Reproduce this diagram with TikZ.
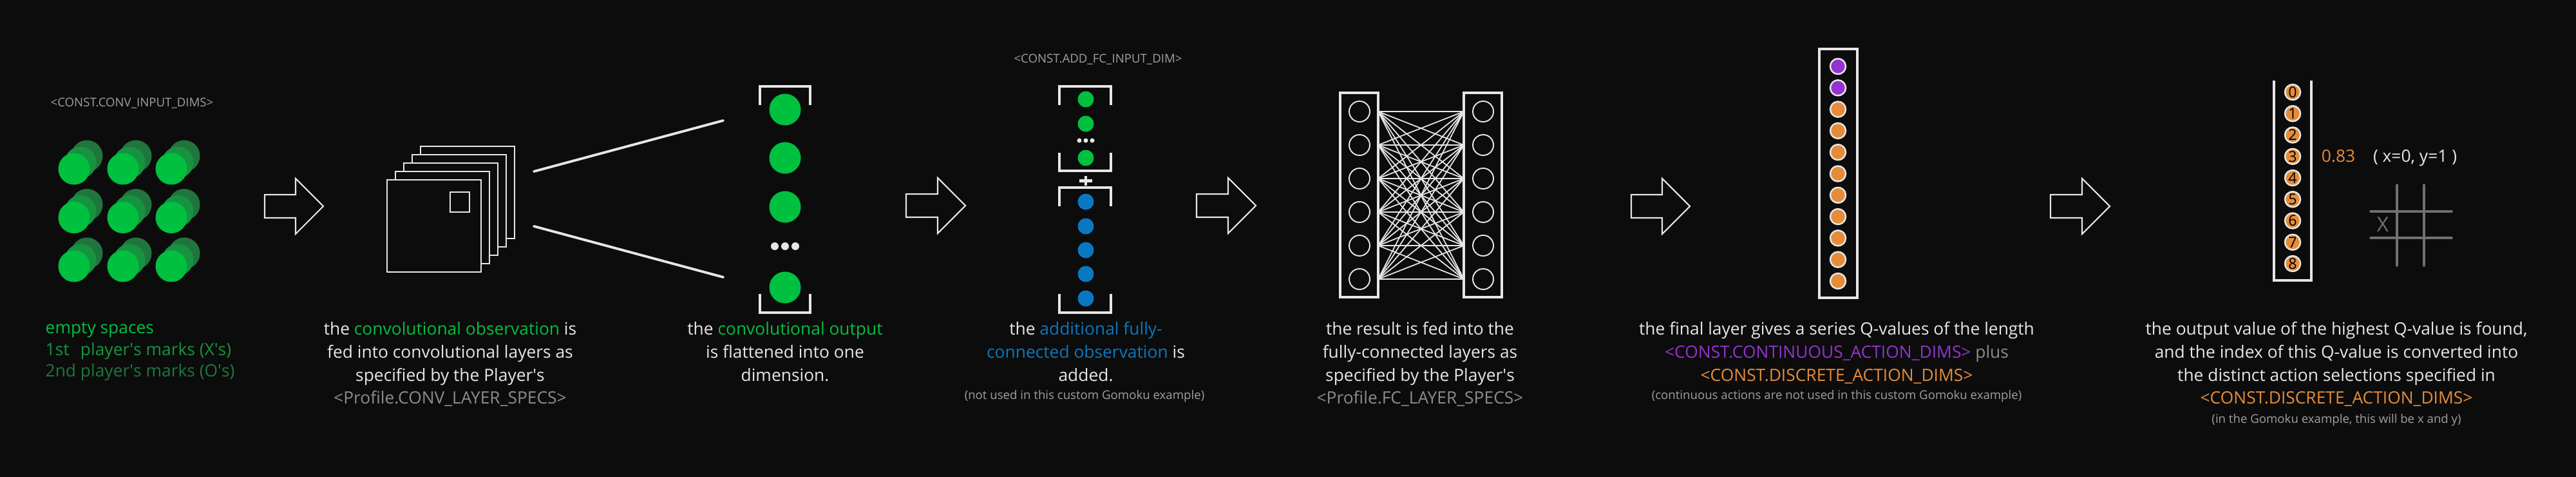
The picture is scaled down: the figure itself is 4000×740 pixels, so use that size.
\documentclass[tikz,border=0pt]{standalone}
\usepackage{fontspec}
\setmainfont{Open Sans}
\definecolor{bg}{HTML}{0C0C0C}
\definecolor{fg}{HTML}{E6E6E6}
\definecolor{mgrey}{HTML}{8C8C8C}
\definecolor{lgrey}{HTML}{A0A0A0}
\definecolor{gridgrey}{HTML}{707070}
\definecolor{gone}{HTML}{00C040}
\definecolor{gtwo}{HTML}{17933F}
\definecolor{gthree}{HTML}{20753E}
\definecolor{qblue}{HTML}{0A78C0}
\definecolor{qpurple}{HTML}{9333D0}
\definecolor{qorange}{HTML}{E58C3A}
\newcommand\ap{\textquotesingle}
\newcommand\barrow[4]{% x0, xhead, xtip, y
  \draw[blockarrow] (#1,#4-18) -- (#2,#4-18) -- (#2,#4-43) -- (#3,#4) -- (#2,#4+43) -- (#2,#4+18) -- (#1,#4+18) -- cycle;}
\begin{document}
\begin{tikzpicture}[x=0.01cm,y=-0.01cm,
  maintext/.style={font=\fontsize{7.5}{9}\selectfont, text=fg, inner sep=0, anchor=base},
  smalltext/.style={font=\fontsize{5.3}{7}\selectfont, text=lgrey, inner sep=0, anchor=base},
  blockarrow/.style={draw=fg, line width=0.6pt, fill=bg, line join=miter},
  gdot/.style={circle, minimum size=0.49cm, inner sep=0, draw=none},
  sdot/.style={circle, minimum size=0.25cm, inner sep=0, draw=none},
  wdot/.style={circle, fill=fg, inner sep=0, draw=none},
  bracket/.style={draw=fg, line width=1.1pt},
  convsheet/.style={rectangle, draw=fg, fill=bg, line width=0.6pt, minimum width=1.46cm, minimum height=1.43cm, inner sep=0},
  layerbox/.style={rectangle, draw=fg, line width=1.1pt, inner sep=0},
  hollow/.style={circle, draw=fg, line width=0.55pt, minimum size=0.32cm, inner sep=0},
  conn/.style={draw=fg, line width=0.5pt},
  qdot/.style={circle, draw=fg, line width=0.7pt, minimum size=0.24cm, inner sep=0},
  gridline/.style={draw=gridgrey, line width=1pt, line cap=round}]
\useasboundingbox[fill=bg] (0,0) rectangle (4000,740);

% ---------- panel 1: input planes ----------
\node[smalltext] (lab1) at (205,166) {<CONST.CONV\_INPUT\_DIMS>};
\foreach \i/\x in {1/115,2/191,3/266}
  \foreach \j/\y in {1/262,2/337.5,3/413} {
    \node[gdot, fill=gthree] (b\i\j) at (\x+20,\y-20) {};
    \node[gdot, fill=gtwo] (m\i\j) at (\x+10,\y-10) {};
    \node[gdot, fill=gone] (f\i\j) at (\x,\y) {};
  }
\node[maintext, anchor=base west, text=gone] (p1a) at (70,518) {empty spaces};
\node[maintext, anchor=base west, text=gtwo] (p1b) at (70,551) {\rlap{1st}\phantom{2nd} player\ap s marks (X\ap s)};
\node[maintext, anchor=base west, text=gthree] (p1c) at (70,584) {2nd player\ap s marks (O\ap s)};

\barrow{411}{459}{502}{320}

% ---------- panel 2: convolution ----------
\foreach \k in {4,3,2,1,0}
  \node[convsheet] (conv\k) at (674+13*\k,350.5-13*\k) {};
\node[rectangle, draw=fg, line width=0.6pt, minimum width=0.30cm, minimum height=0.31cm, inner sep=0] (kern) at (714,313.5) {};
\coordinate (fu1) at (829,266);
\coordinate (fu2) at (1123,187);
\coordinate (fl1) at (829,351);
\coordinate (fl2) at (1123,430);
\draw[fg, line width=1.1pt, line cap=round] (fu1) -- (fu2);
\draw[fg, line width=1.1pt, line cap=round] (fl1) -- (fl2);
\node[maintext] (p2a) at (699,520) {the \textcolor{gone}{convolutional observation} is};
\node[maintext] (p2b) at (699,555) {fed into convolutional layers as};
\node[maintext] (p2c) at (699,591) {specified by the Player\ap s};
\node[maintext, text=mgrey] (p2d) at (699,626) {<Profile.CONV\_LAYER\_SPECS>};

% ---------- panel 3: flattened ----------
\draw[bracket] (1180,163) -- (1180,134) -- (1258,134) -- (1258,163);
\draw[bracket] (1180,456) -- (1180,485) -- (1258,485) -- (1258,456);
\foreach \n/\y in {1/170,2/245,3/321,4/446}
  \node[gdot, fill=gone] (v\n) at (1219,\y) {};
\foreach \n/\x in {1/1203,2/1219,3/1235}
  \node[wdot, minimum size=0.12cm] (vd\n) at (\x,382) {};
\node[maintext] (p3a) at (1219,520) {the \textcolor{gone}{convolutional output}};
\node[maintext] (p3b) at (1219,555) {is flattened into one};
\node[maintext] (p3c) at (1219,591) {dimension.};

\barrow{1407}{1456}{1499}{319}

% ---------- panel 4: concatenation ----------
\node[smalltext] (lab4) at (1705,98) {<CONST.ADD\_FC\_INPUT\_DIM>};
\draw[bracket] (1645,163) -- (1645,134) -- (1725,134) -- (1725,163);
\draw[bracket] (1645,237) -- (1645,265) -- (1725,265) -- (1725,237);
\draw[bracket] (1645,320) -- (1645,291) -- (1725,291) -- (1725,320);
\draw[bracket] (1645,456) -- (1645,485) -- (1725,485) -- (1725,456);
\foreach \n/\y in {1/154,2/192,3/245}
  \node[sdot, fill=gone] (cg\n) at (1686,\y) {};
\foreach \n/\x in {1/1676,2/1686,3/1696}
  \node[wdot, minimum size=0.07cm] (cd\n) at (\x,218) {};
\draw[fg, line width=1.2pt] (1676,280.5) -- (1696,280.5);
\draw[fg, line width=1.2pt] (1686,273) -- (1686,288);
\foreach \n/\y in {1/313,2/351,3/388,4/425,5/463}
  \node[sdot, fill=qblue] (cb\n) at (1686,\y) {};
\node[maintext] (p4a) at (1686,520) {the \textcolor{qblue}{additional fully-}};
\node[maintext] (p4b) at (1686,555) {\textcolor{qblue}{connected observation} is};
\node[maintext] (p4c) at (1686,591) {added.};
\node[smalltext] (p4d) at (1684,619) {(not used in this custom Gomoku example)};

\barrow{1858}{1907}{1950}{319}

% ---------- panel 5: fully connected ----------
\node[layerbox, minimum width=0.59cm, minimum height=3.17cm] (lbox) at (2110.5,302.5) {};
\node[layerbox, minimum width=0.59cm, minimum height=3.17cm] (rbox) at (2302.5,302.5) {};
\foreach \n/\y in {1/173,2/225,3/277,4/329,5/381,6/433} {
  \node[hollow] (l\n) at (2111,\y) {};
  \node[hollow] (r\n) at (2303,\y) {};
  \coordinate (la\n) at (2140,\y);
  \coordinate (rb\n) at (2273,\y);
}
\foreach \a in {1,...,6}
  \foreach \b in {1,...,6}
    \draw[conn] (la\a) -- (rb\b);
\node[maintext] (p5a) at (2205,520) {the result is fed into the};
\node[maintext] (p5b) at (2205,555) {fully-connected layers as};
\node[maintext] (p5c) at (2205,591) {specified by the Player\ap s};
\node[maintext, text=mgrey] (p5d) at (2205,626) {<Profile.FC\_LAYER\_SPECS>};

\barrow{2533}{2581}{2624}{320}

% ---------- panel 6: final layer ----------
\node[layerbox, minimum width=0.59cm, minimum height=3.86cm] (qbox) at (2854.5,269) {};
\foreach \n in {0,1}
  \node[qdot, fill=qpurple] (q\n) at (2854,103+33.3*\n) {};
\foreach \n in {2,...,10}
  \node[qdot, fill=qorange] (q\n) at (2854,103+33.3*\n) {};
\node[maintext] (p6a) at (2852,520) {the final layer gives a series Q-values of the length};
\node[maintext] (p6b) at (2852,555) {\textcolor{qpurple}{<CONST.CONTINUOUS\_ACTION\_DIMS>} \textcolor{mgrey}{plus}};
\node[maintext, text=qorange] (p6c) at (2852,591) {<CONST.DISCRETE\_ACTION\_DIMS>};
\node[smalltext] (p6d) at (2852,619) {(continuous actions are not used in this custom Gomoku example)};

\barrow{3184}{3233}{3276}{320}

% ---------- panel 7: action selection ----------
\draw[bracket] (3531,125) -- (3531,435) -- (3589,435) -- (3589,125);
\foreach \n in {0,...,8}
  \node[qdot, fill=qorange, font=\fontsize{6.6}{7}\selectfont, text=black] (o\n) at (3560,143+33.25*\n) {\n};
\node[maintext, text=qorange] (val) at (3631,252) {0.83};
\node[maintext] (xy) at (3750,252) {( x=0, y=1 )};
\draw[gridline] (3722,287) -- (3722,412);
\draw[gridline] (3764,287) -- (3764,412);
\draw[gridline] (3681,328) -- (3807,328);
\draw[gridline] (3681,369) -- (3807,369);
\node[font=\fontsize{9}{9}\selectfont, text=gridgrey, inner sep=0] (xmark) at (3700,348) {X};
\node[maintext] (p7a) at (3628,520) {the output value of the highest Q-value is found,};
\node[maintext] (p7b) at (3628,555) {and the index of this Q-value is converted into};
\node[maintext] (p7c) at (3628,591) {the distinct action selections specified in};
\node[maintext, text=qorange] (p7d) at (3628,626) {<CONST.DISCRETE\_ACTION\_DIMS>};
\node[smalltext] (p7e) at (3628,656) {(in the Gomoku example, this will be x and y)};
\end{tikzpicture}
\end{document}
